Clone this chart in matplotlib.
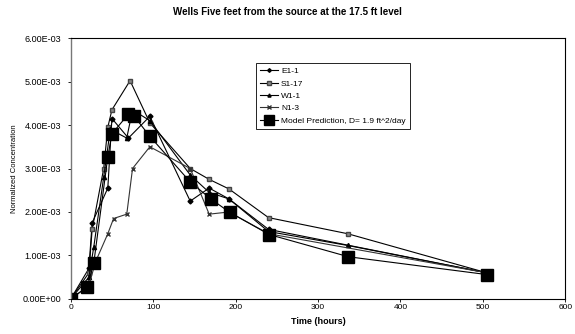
import matplotlib
matplotlib.use("Agg")
import matplotlib.pyplot as plt

title = "Wells Five feet from the source at the 17.5 ft level"
xlabel = "Time (hours)"
ylabel = "Normalized Concentration"

e11_t = [0, 22, 26, 45, 50, 70, 96, 145, 168, 192, 240, 505]
e11_c = [0, 0.7e-3, 1.75e-3, 2.55e-3, 4.15e-3, 3.7e-3, 4.2e-3, 2.25e-3, 2.55e-3, 2.3e-3, 1.6e-3, 0.6e-3]

s117_t = [0, 22, 26, 40, 45, 50, 72, 96, 145, 168, 192, 240, 336, 505]
s117_c = [0, 0.6e-3, 1.6e-3, 3.0e-3, 3.95e-3, 4.35e-3, 5.02e-3, 4.05e-3, 3.0e-3, 2.75e-3, 2.53e-3, 1.87e-3, 1.5e-3, 0.6e-3]

w11_t = [0, 22, 28, 40, 48, 68, 75, 96, 145, 168, 192, 240, 336, 505]
w11_c = [0, 0.5e-3, 1.2e-3, 2.8e-3, 3.9e-3, 3.7e-3, 4.35e-3, 4.1e-3, 2.85e-3, 2.45e-3, 2.3e-3, 1.55e-3, 1.23e-3, 0.6e-3]

n13_t = [0, 22, 30, 45, 52, 68, 75, 96, 145, 168, 192, 240, 505]
n13_c = [0, 0.3e-3, 0.85e-3, 1.5e-3, 1.85e-3, 1.95e-3, 3.0e-3, 3.5e-3, 3.0e-3, 1.95e-3, 2.0e-3, 1.5e-3, 0.6e-3]

model_t = [0, 20, 28, 45, 50, 70, 77, 96, 145, 170, 193, 241, 337, 505]
model_c = [0, 0.28e-3, 0.83e-3, 3.27e-3, 3.8e-3, 4.25e-3, 4.2e-3, 3.74e-3, 2.69e-3, 2.30e-3, 1.99e-3, 1.48e-3, 0.97e-3, 0.56e-3]

xticks = [0, 100, 200, 300, 400, 500, 600]
yticks = [0, 1e-3, 2e-3, 3e-3, 4e-3, 5e-3, 6e-3]
ytick_labels = ["0.00E+00", "1.00E-03", "2.00E-03", "3.00E-03", "4.00E-03", "5.00E-03", "6.00E-03"]

plt.rcParams['font.family'] = ['Liberation Sans', 'DejaVu Sans']

fig = plt.figure(figsize=(5.75, 3.34), dpi=100)
ax = fig.add_axes([0.123, 0.105, 0.860, 0.781])

lw = 0.8
ax.plot(e11_t, e11_c, color='black', lw=lw, marker='D', ms=2.5, mfc='black', mec='black', label='E1-1')
ax.plot(s117_t, s117_c, color='black', lw=lw, marker='s', ms=3, mfc='#888888', mec='#444444', label='S1-17')
ax.plot(w11_t, w11_c, color='black', lw=lw, marker='^', ms=3, mfc='black', mec='black', label='W1-1')
ax.plot(n13_t, n13_c, color='#333333', lw=lw, marker='x', ms=3.5, mec='#333333', label='N1-3')
ax.plot(model_t, model_c, color='black', lw=lw, marker='s', ms=9, mfc='black', mec='black',
        label='Model Prediction, D= 1.9 ft^2/day')

ax.set_xlim(0, 600)
ax.set_ylim(0, 6e-3)
ax.set_xticks(xticks)
ax.set_xticklabels([str(x) for x in xticks], fontsize=6)
ax.set_yticks(yticks)
ax.set_yticklabels(ytick_labels, fontsize=6.5)
ax.tick_params(direction='out', length=2, width=0.6, pad=2)
ax.tick_params(axis='y', pad=5)

for side in ['top', 'right', 'bottom']:
    ax.spines[side].set_linewidth(0.8)
    ax.spines[side].set_color('black')
ax.spines['left'].set_linewidth(1.0)
ax.spines['left'].set_color('#777777')

ax.set_xlabel(xlabel, fontsize=6.5, fontweight='bold', labelpad=4)
ax.set_ylabel(ylabel, fontsize=5.5, labelpad=3)
fig.suptitle(title, fontsize=7, fontweight='bold', y=0.98)

leg = ax.legend(loc='upper left', bbox_to_anchor=(0.366, 0.92), fontsize=6, frameon=True,
                fancybox=False, edgecolor='black', framealpha=1, handlelength=2.2,
                handletextpad=0.3, borderpad=0.5, labelspacing=0.55, markerscale=0.75)
leg.get_frame().set_linewidth(0.6)

fig.savefig("out.png", dpi=100)
